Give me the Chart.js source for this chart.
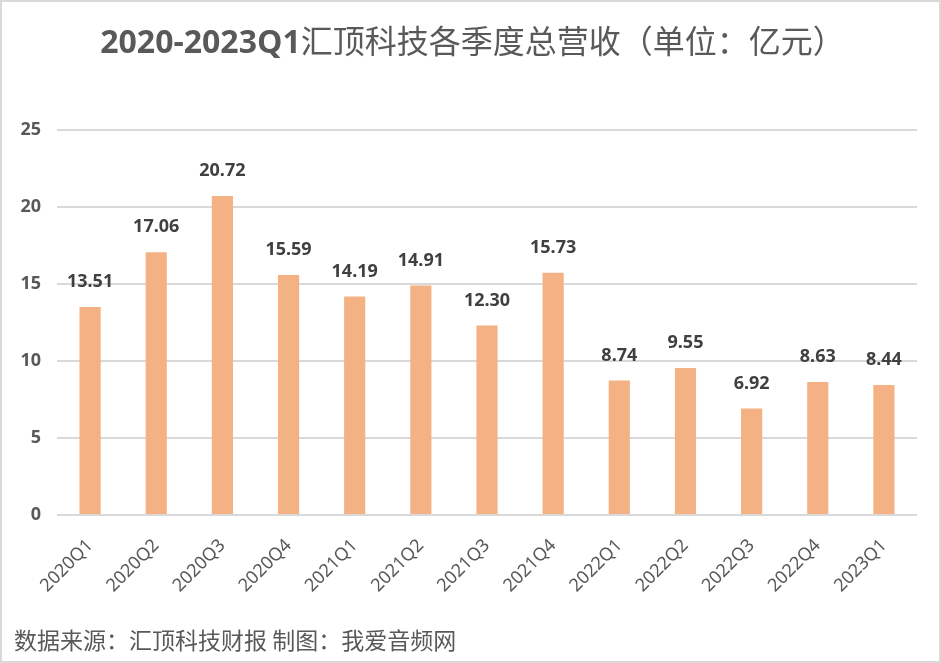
<!DOCTYPE html>
<html>
<head>
<meta charset="utf-8">
<script src="https://cdn.jsdelivr.net/npm/chart.js@4"></script>
<style>
  html, body { margin: 0; padding: 0; background: #fff; }
  #wrap { position: relative; width: 941px; height: 663px; box-sizing: border-box; border: 2px solid #d9d9d9; overflow: hidden; }
  #chart { position: absolute; left: 0; top: 0; }
  #title { position: absolute; left: 0; top: 15px; width: 941px; text-align: center; font-family: "Noto Sans CJK SC", sans-serif; font-size: 32px; color: #595959; line-height: 44px; white-space: nowrap; }
  #title b { font-family: "Open Sans", "Noto Sans", sans-serif; font-weight: 700; }
  #source { position: absolute; left: 12px; top: 622px; font-family: "Noto Sans CJK SC", sans-serif; font-size: 23px; color: #595959; line-height: 30px; white-space: nowrap; }
</style>
</head>
<body>
<div id="wrap">
  <canvas id="chart" width="941" height="663"></canvas>
  <div id="title"><b>2020-2023Q1</b>汇顶科技各季度总营收（单位：亿元）</div>
  <div id="source">数据来源：汇顶科技财报 制图：我爱音频网</div>
</div>
<script>
const categories = ["2020Q1","2020Q2","2020Q3","2020Q4","2021Q1","2021Q2","2021Q3","2021Q4","2022Q1","2022Q2","2022Q3","2022Q4","2023Q1"];
const revenue = [13.51, 17.06, 20.72, 15.59, 14.19, 14.91, 12.30, 15.73, 8.74, 9.55, 6.92, 8.63, 8.44];
const yTicks = [0, 5, 10, 15, 20, 25];

const labelPlugin = {
  id: 'valueLabels',
  afterDatasetsDraw(chart) {
    const ctx = chart.ctx;
    const meta = chart.getDatasetMeta(0);
    ctx.save();
    ctx.font = 'bold 18px "Noto Sans", sans-serif';
    ctx.fillStyle = '#404040';
    ctx.textAlign = 'center';
    ctx.textBaseline = 'middle';
    meta.data.forEach((bar, i) => {
      ctx.fillText(revenue[i].toFixed(2), bar.x, bar.y - 25);
    });
    ctx.restore();
  }
};

new Chart(document.getElementById('chart'), {
  type: 'bar',
  data: {
    labels: categories,
    datasets: [{
      data: revenue,
      backgroundColor: '#F4B183',
      borderWidth: 0,
      categoryPercentage: 1,
      barPercentage: 0.32
    }]
  },
  options: {
    responsive: false,
    animation: false,
    devicePixelRatio: 1,
    layout: { padding: { top: 128, right: 26, bottom: 0, left: 0 } },
    plugins: { legend: { display: false }, tooltip: { enabled: false }, title: { display: false } },
    scales: {
      y: {
        min: 0, max: 25,
        afterBuildTicks(scale) { scale.ticks = yTicks.map(v => ({ value: v })); },
        afterFit(scale) { scale.width = 55; },
        border: { display: false },
        grid: { color: '#d9d9d9', lineWidth: 2, drawTicks: false },
        ticks: { padding: 16, color: '#595959', font: { family: '"Noto Sans", sans-serif', size: 18, weight: 'bold' } }
      },
      x: {
        afterFit(scale) { scale.height = 150; },
        border: { display: false },
        grid: { display: false },
        ticks: { minRotation: 45, maxRotation: 45, padding: 12, color: '#595959', font: { family: '"Noto Sans", sans-serif', size: 18 } }
      }
    }
  },
  plugins: [labelPlugin]
});
</script>
</body>
</html>
